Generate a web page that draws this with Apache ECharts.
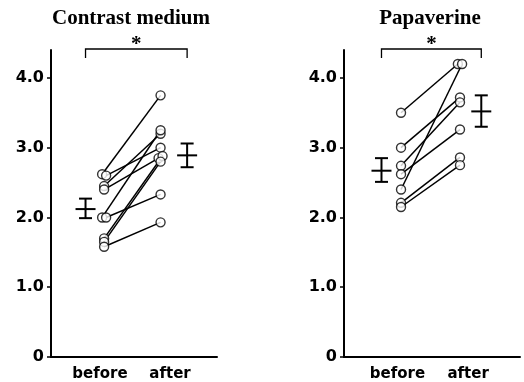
<!DOCTYPE html>
<html><head><meta charset="utf-8">
<script src="https://cdn.jsdelivr.net/npm/echarts@6/dist/echarts.min.js"></script>
<style>html,body{margin:0;padding:0;background:#fff}#c{width:524px;height:382px}</style>
</head><body><div id="c"></div>
<script>
// ---- data ----
const yTickValues = [0, 1, 2, 3, 4];
const groupLabels = ['before', 'after'];
const panelTitles = ['Contrast medium', 'Papaverine'];
const sigMark = '*';

const cmBefore = [2.62, 2.60, 2.45, 2.40, 2.00, 2.00, 1.70, 1.65, 1.58];
const cmAfter  = [3.75, 3.00, 3.20, 2.85, 3.25, 2.33, 2.88, 2.80, 1.93];
const cmMean   = [2.12, 2.89];
const cmLow    = [1.99, 2.72];
const cmHigh   = [2.27, 3.06];

const papBefore = [3.50, 2.40, 3.00, 2.74, 2.62, 2.21, 2.15];
const papAfter  = [4.20, 4.20, 3.72, 3.65, 3.26, 2.86, 2.75];
const papMean   = [2.67, 3.52];
const papLow    = [2.51, 3.30];
const papHigh   = [2.85, 3.75];

// ---- layout ----
const panels = [
  { before: cmBefore, after: cmAfter, mean: cmMean, low: cmLow, high: cmHigh,
    grid: { left: 51, right: 307, top: 50, bottom: 24 }, xErr: [2.08, 8.2], xPt: [3.2, 6.6], xLab: [2.95, 7.17], titleX: 131 },
  { before: papBefore, after: papAfter, mean: papMean, low: papLow, high: papHigh,
    grid: { left: 344, right: 4, top: 50, bottom: 23 }, xErr: [2.13, 7.8], xPt: [3.24, 6.59], xLab: [3.04, 7.05], titleX: 430 }
];
const YMAX = 4.4;
const DODGE = 0.12;

function dodge(vals) {
  const off = vals.map(() => 0);
  for (let i = 0; i < vals.length; i++) {
    for (let j = i + 1; j < vals.length; j++) {
      if (Math.abs(vals[i] - vals[j]) < 0.03 && off[i] === 0 && off[j] === 0) {
        off[i] = -DODGE; off[j] = DODGE;
      }
    }
  }
  return off;
}

const grids = [], xAxes = [], yAxes = [], series = [], titles = [];
const black = '#000';

panels.forEach((p, k) => {
  grids.push(p.grid);
  titles.push({ text: panelTitles[k], left: p.titleX, top: 8, textAlign: 'center', padding: 0,
    textStyle: { fontFamily: 'Liberation Serif', fontWeight: 'bold', fontSize: 21, color: black } });
  xAxes.push({
    type: 'value', gridIndex: k, min: 0, max: 10,
    axisLine: { show: true, lineStyle: { color: black, width: 2 } },
    axisTick: { show: false }, splitLine: { show: false },
    axisLabel: { show: true, customValues: p.xLab, margin: 10,
      formatter: v => groupLabels[p.xLab.indexOf(v)],
      fontFamily: 'DejaVu Sans', fontWeight: 'bold', fontSize: 15, color: black }
  });
  yAxes.push({
    type: 'value', gridIndex: k, min: 0, max: YMAX,
    axisLine: { show: true, lineStyle: { color: black, width: 2 } },
    axisTick: { show: true, customValues: yTickValues, length: 4, lineStyle: { color: black, width: 1.5 } },
    splitLine: { show: false },
    axisLabel: { show: true, customValues: yTickValues, margin: 7,
      formatter: v => v === 0 ? '0' : v.toFixed(1),
      fontFamily: 'DejaVu Sans', fontWeight: 'bold', fontSize: 16, color: black }
  });
  const offB = dodge(p.before), offA = dodge(p.after);
  const pts = [];
  p.before.forEach((b, i) => {
    const a = p.after[i];
    const d = [[p.xPt[0] + offB[i], b], [p.xPt[1] + offA[i], a]];
    series.push({ type: 'line', xAxisIndex: k, yAxisIndex: k, data: d, symbol: 'none', z: 2,
      lineStyle: { color: black, width: 1.5 }, silent: true, animation: false });
    pts.push(d[0], d[1]);
  });
  series.push({ type: 'scatter', xAxisIndex: k, yAxisIndex: k, data: pts, symbol: 'circle', symbolSize: 9, z: 3,
    itemStyle: { color: '#fff', borderColor: black, borderWidth: 1.4 }, animation: false });
  // error bars
  series.push({
    type: 'custom', xAxisIndex: k, yAxisIndex: k, z: 4, animation: false,
    data: p.mean.map((m, i) => [p.xErr[i], m, p.low[i], p.high[i]]),
    renderItem: (params, api) => {
      const x = api.value(0);
      const pm = api.coord([x, api.value(1)]), pl = api.coord([x, api.value(2)]), ph = api.coord([x, api.value(3)]);
      const st = { stroke: black, lineWidth: 2 };
      return { type: 'group', children: [
        { type: 'line', shape: { x1: pm[0], y1: pl[1], x2: pm[0], y2: ph[1] }, style: st },
        { type: 'line', shape: { x1: pm[0] - 6.5, y1: pl[1], x2: pm[0] + 6.5, y2: pl[1] }, style: st },
        { type: 'line', shape: { x1: pm[0] - 6.5, y1: ph[1], x2: pm[0] + 6.5, y2: ph[1] }, style: st },
        { type: 'line', shape: { x1: pm[0] - 10, y1: pm[1], x2: pm[0] + 10, y2: pm[1] }, style: st }
      ]};
    }
  });
  // significance bracket
  series.push({
    type: 'custom', xAxisIndex: k, yAxisIndex: k, z: 4, clip: false, animation: false,
    data: [[p.xErr[0], p.xErr[1]]],
    renderItem: (params, api) => {
      const l = api.coord([api.value(0), YMAX]), r = api.coord([api.value(1), YMAX]);
      const top = l[1] - 1;
      return { type: 'group', children: [
        { type: 'polyline', shape: { points: [[l[0], top + 9], [l[0], top], [r[0], top], [r[0], top + 9]] },
          style: { stroke: black, lineWidth: 1.3, fill: null } },
        { type: 'text', x: (l[0] + r[0]) / 2, y: top - 4,
          style: { text: sigMark, fontFamily: 'Liberation Serif', fontWeight: 'bold', fontSize: 21, fill: black,
            align: 'center', verticalAlign: 'middle' } }
      ]};
    }
  });
});

const chart = echarts.init(document.getElementById('c'));
chart.setOption({ animation: false, backgroundColor: '#fff', title: titles, grid: grids, xAxis: xAxes, yAxis: yAxes, series });
</script>
</body></html>
